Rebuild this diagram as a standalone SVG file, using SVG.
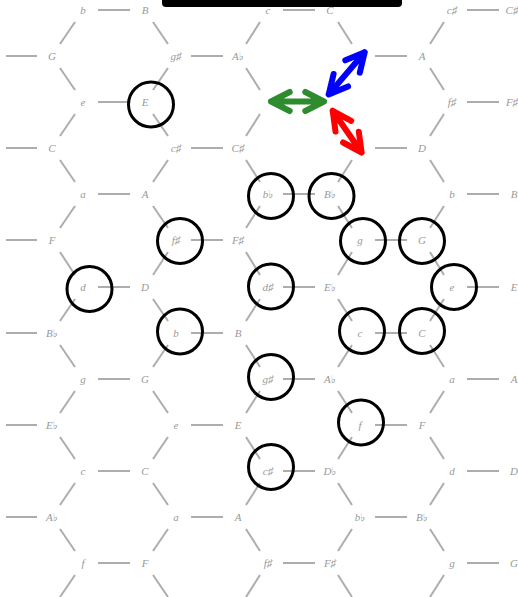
<svg xmlns="http://www.w3.org/2000/svg" width="518" height="597" viewBox="0 0 518 597">
<style>
.e{stroke:#adadad;stroke-width:2;fill:none}
.l{font-family:"Liberation Serif","DejaVu Serif",serif;font-style:italic;font-size:11px;fill:#999;text-anchor:middle}
.c{fill:none;stroke:#000;stroke-width:3}
.a{fill:none;stroke-width:6;stroke-linecap:round;stroke-linejoin:round}
</style>
<rect width="518" height="597" fill="#fff"/>
<g id="connectors">
<line class="e" x1="98" y1="10" x2="130" y2="10"/><line class="e" x1="283" y1="10" x2="315" y2="10"/><line class="e" x1="467" y1="10" x2="499" y2="10"/>
<line class="e" x1="75" y1="22" x2="60" y2="44"/><line class="e" x1="260" y1="22" x2="246" y2="44"/><line class="e" x1="444" y1="22" x2="430" y2="44"/>
<line class="e" x1="98" y1="102" x2="130" y2="102"/><line class="e" x1="467" y1="102" x2="499" y2="102"/>
<line class="e" x1="75" y1="90" x2="60" y2="68"/><line class="e" x1="260" y1="90" x2="246" y2="68"/><line class="e" x1="444" y1="90" x2="430" y2="68"/>
<line class="e" x1="75" y1="114" x2="60" y2="136"/><line class="e" x1="260" y1="114" x2="246" y2="136"/><line class="e" x1="444" y1="114" x2="430" y2="136"/>
<line class="e" x1="98" y1="194" x2="130" y2="194"/><line class="e" x1="283" y1="194" x2="315" y2="194"/><line class="e" x1="467" y1="194" x2="499" y2="194"/>
<line class="e" x1="75" y1="182" x2="60" y2="160"/><line class="e" x1="260" y1="182" x2="246" y2="160"/><line class="e" x1="444" y1="182" x2="430" y2="160"/>
<line class="e" x1="75" y1="206" x2="60" y2="228"/><line class="e" x1="260" y1="206" x2="246" y2="228"/><line class="e" x1="444" y1="206" x2="430" y2="228"/>
<line class="e" x1="98" y1="287" x2="130" y2="287"/><line class="e" x1="283" y1="287" x2="315" y2="287"/><line class="e" x1="467" y1="287" x2="499" y2="287"/>
<line class="e" x1="75" y1="275" x2="60" y2="252"/><line class="e" x1="260" y1="275" x2="246" y2="252"/><line class="e" x1="444" y1="275" x2="430" y2="252"/>
<line class="e" x1="75" y1="299" x2="60" y2="321"/><line class="e" x1="260" y1="299" x2="246" y2="321"/><line class="e" x1="444" y1="299" x2="430" y2="321"/>
<line class="e" x1="98" y1="379" x2="130" y2="379"/><line class="e" x1="283" y1="379" x2="315" y2="379"/><line class="e" x1="467" y1="379" x2="499" y2="379"/>
<line class="e" x1="75" y1="367" x2="60" y2="345"/><line class="e" x1="260" y1="367" x2="246" y2="345"/><line class="e" x1="444" y1="367" x2="430" y2="345"/>
<line class="e" x1="75" y1="391" x2="60" y2="413"/><line class="e" x1="260" y1="391" x2="246" y2="413"/><line class="e" x1="444" y1="391" x2="430" y2="413"/>
<line class="e" x1="98" y1="471" x2="130" y2="471"/><line class="e" x1="283" y1="471" x2="315" y2="471"/><line class="e" x1="467" y1="471" x2="499" y2="471"/>
<line class="e" x1="75" y1="459" x2="60" y2="437"/><line class="e" x1="260" y1="459" x2="246" y2="437"/><line class="e" x1="444" y1="459" x2="430" y2="437"/>
<line class="e" x1="75" y1="483" x2="60" y2="505"/><line class="e" x1="260" y1="483" x2="246" y2="505"/><line class="e" x1="444" y1="483" x2="430" y2="505"/>
<line class="e" x1="98" y1="563" x2="130" y2="563"/><line class="e" x1="283" y1="563" x2="315" y2="563"/><line class="e" x1="467" y1="563" x2="499" y2="563"/>
<line class="e" x1="75" y1="551" x2="60" y2="529"/><line class="e" x1="260" y1="551" x2="246" y2="529"/><line class="e" x1="444" y1="551" x2="430" y2="529"/>
<line class="e" x1="75" y1="575" x2="60" y2="597"/><line class="e" x1="260" y1="575" x2="246" y2="597"/><line class="e" x1="444" y1="575" x2="430" y2="597"/>
<line class="e" x1="6" y1="56" x2="37" y2="56"/><line class="e" x1="191" y1="56" x2="223" y2="56"/><line class="e" x1="375" y1="56" x2="407" y2="56"/>
<line class="e" x1="168" y1="44" x2="153" y2="22"/><line class="e" x1="168" y1="68" x2="153" y2="90"/><line class="e" x1="352" y1="44" x2="338" y2="22"/>
<line class="e" x1="6" y1="148" x2="37" y2="148"/><line class="e" x1="191" y1="148" x2="223" y2="148"/><line class="e" x1="375" y1="148" x2="407" y2="148"/>
<line class="e" x1="168" y1="136" x2="153" y2="114"/><line class="e" x1="168" y1="160" x2="153" y2="182"/><line class="e" x1="352" y1="160" x2="338" y2="182"/>
<line class="e" x1="6" y1="240" x2="37" y2="240"/><line class="e" x1="191" y1="240" x2="223" y2="240"/><line class="e" x1="375" y1="240" x2="407" y2="240"/>
<line class="e" x1="168" y1="228" x2="153" y2="206"/><line class="e" x1="168" y1="252" x2="153" y2="275"/><line class="e" x1="352" y1="228" x2="338" y2="206"/><line class="e" x1="352" y1="252" x2="338" y2="275"/>
<line class="e" x1="6" y1="333" x2="37" y2="333"/><line class="e" x1="191" y1="333" x2="223" y2="333"/><line class="e" x1="375" y1="333" x2="407" y2="333"/>
<line class="e" x1="168" y1="321" x2="153" y2="299"/><line class="e" x1="168" y1="345" x2="153" y2="367"/><line class="e" x1="352" y1="321" x2="338" y2="299"/><line class="e" x1="352" y1="345" x2="338" y2="367"/>
<line class="e" x1="6" y1="425" x2="37" y2="425"/><line class="e" x1="191" y1="425" x2="223" y2="425"/><line class="e" x1="375" y1="425" x2="407" y2="425"/>
<line class="e" x1="168" y1="413" x2="153" y2="391"/><line class="e" x1="168" y1="437" x2="153" y2="459"/><line class="e" x1="352" y1="413" x2="338" y2="391"/><line class="e" x1="352" y1="437" x2="338" y2="459"/>
<line class="e" x1="6" y1="517" x2="37" y2="517"/><line class="e" x1="191" y1="517" x2="223" y2="517"/><line class="e" x1="375" y1="517" x2="407" y2="517"/>
<line class="e" x1="168" y1="505" x2="153" y2="483"/><line class="e" x1="168" y1="529" x2="153" y2="551"/><line class="e" x1="352" y1="505" x2="338" y2="483"/><line class="e" x1="352" y1="529" x2="338" y2="551"/>
<line class="e" x1="168" y1="597" x2="153" y2="575"/><line class="e" x1="352" y1="597" x2="338" y2="575"/>
</g>
<g id="nodes">
<g id="v0-b"><text class="l" x="83" y="14">b</text></g>
<g id="v0-B"><text class="l" x="145" y="14">B</text></g>
<g id="v0-c"><text class="l" x="268" y="14">c</text></g>
<g id="v0-C"><text class="l" x="330" y="14">C</text></g>
<g id="v0-cs"><text class="l" x="452" y="14">c♯</text></g>
<g id="v0-Cs"><text class="l" x="512" y="14">C♯</text></g>
<g id="v1-G"><text class="l" x="52" y="60">G</text></g>
<g id="v1-gs"><text class="l" x="176" y="60">g♯</text></g>
<g id="v1-Ab"><text class="l" x="238" y="60">A♭</text></g>
<g id="v1-A"><text class="l" x="422" y="60">A</text></g>
<g id="v2-e"><text class="l" x="83" y="106">e</text></g>
<g id="v2-E"><text class="l" x="145" y="106">E</text><circle class="c" cx="151" cy="104.5" r="22.5"/></g>
<g id="v2-fs"><text class="l" x="452" y="106">f♯</text></g>
<g id="v2-Fs"><text class="l" x="512" y="106">F♯</text></g>
<g id="v3-C"><text class="l" x="52" y="152">C</text></g>
<g id="v3-cs"><text class="l" x="176" y="152">c♯</text></g>
<g id="v3-Cs"><text class="l" x="238" y="152">C♯</text></g>
<g id="v3-D"><text class="l" x="422" y="152">D</text></g>
<g id="v4-a"><text class="l" x="83" y="198">a</text></g>
<g id="v4-A"><text class="l" x="145" y="198">A</text></g>
<g id="v4-bb"><text class="l" x="268" y="198">b♭</text><circle class="c" cx="271" cy="196" r="22.5"/></g>
<g id="v4-Bb"><text class="l" x="330" y="198">B♭</text><circle class="c" cx="331.5" cy="196" r="22.5"/></g>
<g id="v4-b"><text class="l" x="452" y="198">b</text></g>
<g id="v4-B"><text class="l" x="514" y="198">B</text></g>
<g id="v5-F"><text class="l" x="52" y="244">F</text></g>
<g id="v5-fs"><text class="l" x="176" y="244">f♯</text><circle class="c" cx="180" cy="241" r="22.5"/></g>
<g id="v5-Fs"><text class="l" x="238" y="244">F♯</text></g>
<g id="v5-g"><text class="l" x="360" y="244">g</text><circle class="c" cx="363" cy="241" r="22.5"/></g>
<g id="v5-G"><text class="l" x="422" y="244">G</text><circle class="c" cx="422" cy="241" r="22.5"/></g>
<g id="v6-d"><text class="l" x="83" y="291">d</text><circle class="c" cx="89.5" cy="289" r="22.5"/></g>
<g id="v6-D"><text class="l" x="145" y="291">D</text></g>
<g id="v6-ds"><text class="l" x="268" y="291">d♯</text><circle class="c" cx="271" cy="286.5" r="22.5"/></g>
<g id="v6-Eb"><text class="l" x="330" y="291">E♭</text></g>
<g id="v6-e"><text class="l" x="452" y="291">e</text><circle class="c" cx="454" cy="287" r="22.5"/></g>
<g id="v6-E"><text class="l" x="514" y="291">E</text></g>
<g id="v7-Bb"><text class="l" x="52" y="337">B♭</text></g>
<g id="v7-b"><text class="l" x="176" y="337">b</text><circle class="c" cx="180" cy="331.5" r="22.5"/></g>
<g id="v7-B"><text class="l" x="238" y="337">B</text></g>
<g id="v7-c"><text class="l" x="360" y="337">c</text><circle class="c" cx="362" cy="331" r="22.5"/></g>
<g id="v7-C"><text class="l" x="422" y="337">C</text><circle class="c" cx="422" cy="331" r="22.5"/></g>
<g id="v8-g"><text class="l" x="83" y="383">g</text></g>
<g id="v8-G"><text class="l" x="145" y="383">G</text></g>
<g id="v8-gs"><text class="l" x="268" y="383">g♯</text><circle class="c" cx="271" cy="377" r="22.5"/></g>
<g id="v8-Ab"><text class="l" x="330" y="383">A♭</text></g>
<g id="v8-a"><text class="l" x="452" y="383">a</text></g>
<g id="v8-A"><text class="l" x="514" y="383">A</text></g>
<g id="v9-Eb"><text class="l" x="52" y="429">E♭</text></g>
<g id="v9-e"><text class="l" x="176" y="429">e</text></g>
<g id="v9-E"><text class="l" x="238" y="429">E</text></g>
<g id="v9-f"><text class="l" x="360" y="429">f</text><circle class="c" cx="361" cy="422.5" r="22.5"/></g>
<g id="v9-F"><text class="l" x="422" y="429">F</text></g>
<g id="v10-c"><text class="l" x="83" y="475">c</text></g>
<g id="v10-C"><text class="l" x="145" y="475">C</text></g>
<g id="v10-cs"><text class="l" x="268" y="475">c♯</text><circle class="c" cx="271" cy="467" r="22.5"/></g>
<g id="v10-Db"><text class="l" x="330" y="475">D♭</text></g>
<g id="v10-d"><text class="l" x="452" y="475">d</text></g>
<g id="v10-D"><text class="l" x="514" y="475">D</text></g>
<g id="v11-Ab"><text class="l" x="52" y="521">A♭</text></g>
<g id="v11-a"><text class="l" x="176" y="521">a</text></g>
<g id="v11-A"><text class="l" x="238" y="521">A</text></g>
<g id="v11-bb"><text class="l" x="360" y="521">b♭</text></g>
<g id="v11-Bb"><text class="l" x="422" y="521">B♭</text></g>
<g id="v12-f"><text class="l" x="83" y="567">f</text></g>
<g id="v12-F"><text class="l" x="145" y="567">F</text></g>
<g id="v12-fs"><text class="l" x="268" y="567">f♯</text></g>
<g id="v12-Fs"><text class="l" x="330" y="567">F♯</text></g>
<g id="v12-g"><text class="l" x="452" y="567">g</text></g>
<g id="v12-G"><text class="l" x="514" y="567">G</text></g>
</g>
<g id="arrows">
<path class="a" stroke="#2e8b2e" d="M271 101.5H324M289.7 92L271 101.5L289.7 111M305.3 92L324 101.5L305.3 111"/>
<path class="a" stroke="#0000ff" d="M328.7 94.4L364.7 52.3M348.1 86.4L328.7 94.4L333.6 74M359.8 72.7L364.7 52.3L345.3 60.3"/>
<path class="a" stroke="#ff0000" d="M332.7 110.8L361.6 152.5M335.5 131.6L332.7 110.8L351.2 120.8M358.8 131.7L361.6 152.5L343.1 142.5"/>
</g>
<rect id="bar" x="162" y="-6" width="240" height="13" rx="4" fill="#000"/>
</svg>
